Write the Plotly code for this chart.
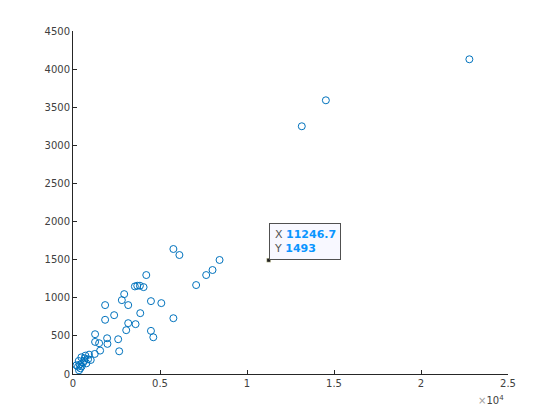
import plotly.graph_objects as go

# scatter data
x_vals = [22780, 14533, 13149,
          5769, 6115, 8423, 8019, 7654, 7077, 4211, 3557, 3692, 3846, 4057,
          2942, 2807, 3173, 4480, 5076, 1846, 2365, 1846, 3865, 5769, 3173,
          3596, 3058, 4480, 4615, 1269, 1269, 1500, 1961, 1980, 2596, 2654,
          1558, 1250,
          923, 1019, 711, 480, 327, 384, 500, 346, 635, 769, 577, 865, 196,
          423, 288, 673]
y_vals = [4129, 3591, 3250,
          1640, 1561, 1496, 1364, 1298, 1167, 1298, 1149, 1158, 1158, 1140,
          1048, 969, 904, 956, 930, 904, 772, 711, 798, 732, 667,
          654, 575, 566, 482, 522, 421, 404, 469, 395, 456, 298,
          307, 263,
          254, 184, 241, 219, 171, 123, 101, 48, 171, 140, 149, 193, 114,
          75, 96, 206]

# data tip
tip_x = [11246.7]
tip_y = [1493]

x_tick_vals = [0, 5000, 10000, 15000, 20000, 25000]
x_tick_text = ["0", "0.5", "1", "1.5", "2", "2.5"]
y_tick_vals = [0, 500, 1000, 1500, 2000, 2500, 3000, 3500, 4000, 4500]
y_tick_text = [str(v) for v in y_tick_vals]

fig = go.Figure()
fig.add_trace(go.Scatter(
    x=x_vals, y=y_vals, mode="markers",
    marker=dict(symbol="circle-open", size=7, color="#0072BD",
                line=dict(width=1, color="#0072BD")),
    hoverinfo="skip", showlegend=False))
fig.add_trace(go.Scatter(
    x=tip_x, y=tip_y, mode="markers",
    marker=dict(symbol="square", size=4, color="#202020",
                line=dict(width=0.5, color="#ffffcc")),
    hoverinfo="skip", showlegend=False))

fig.add_annotation(
    x=tip_x[0], y=tip_y[0], xref="x", yref="y",
    xanchor="left", yanchor="bottom", showarrow=False, align="left",
    text=("<span style='color:#555555'>X</span> <b style='color:#0a95ff'>11246.7</b><br>"
          "<span style='color:#555555'>Y</span> <b style='color:#0a95ff'>1493</b>"),
    font=dict(family="DejaVu Sans", size=11),
    bgcolor="#f8f8ff", bordercolor="#505050", borderwidth=1, borderpad=4)

fig.add_annotation(
    x=1.0, y=0, xref="paper", yref="paper", xanchor="right", yanchor="middle",
    yshift=-26, xshift=-2, showarrow=False,
    text="<span style='color:#a0a0a0'>×</span>10<sup>4</sup>",
    font=dict(family="DejaVu Sans", size=10, color="#404040"))

axis_common = dict(showgrid=False, zeroline=False, showline=True,
                   linecolor="#262626", linewidth=1, ticks="inside",
                   ticklen=4, tickcolor="#262626", mirror=False,
                   tickfont=dict(family="DejaVu Sans", size=10, color="#404040"))

# page body has an 8px margin, so offsets are compensated here
fig.update_layout(
    width=560, height=420,
    margin=dict(l=65, r=60, t=23, b=54, autoexpand=False),
    paper_bgcolor="white", plot_bgcolor="white",
    xaxis=dict(range=[0, 25000], tickvals=x_tick_vals, ticktext=x_tick_text, **axis_common),
    yaxis=dict(range=[0, 4500], tickvals=y_tick_vals, ticktext=y_tick_text, **axis_common),
)

fig.write_html("out.html")
